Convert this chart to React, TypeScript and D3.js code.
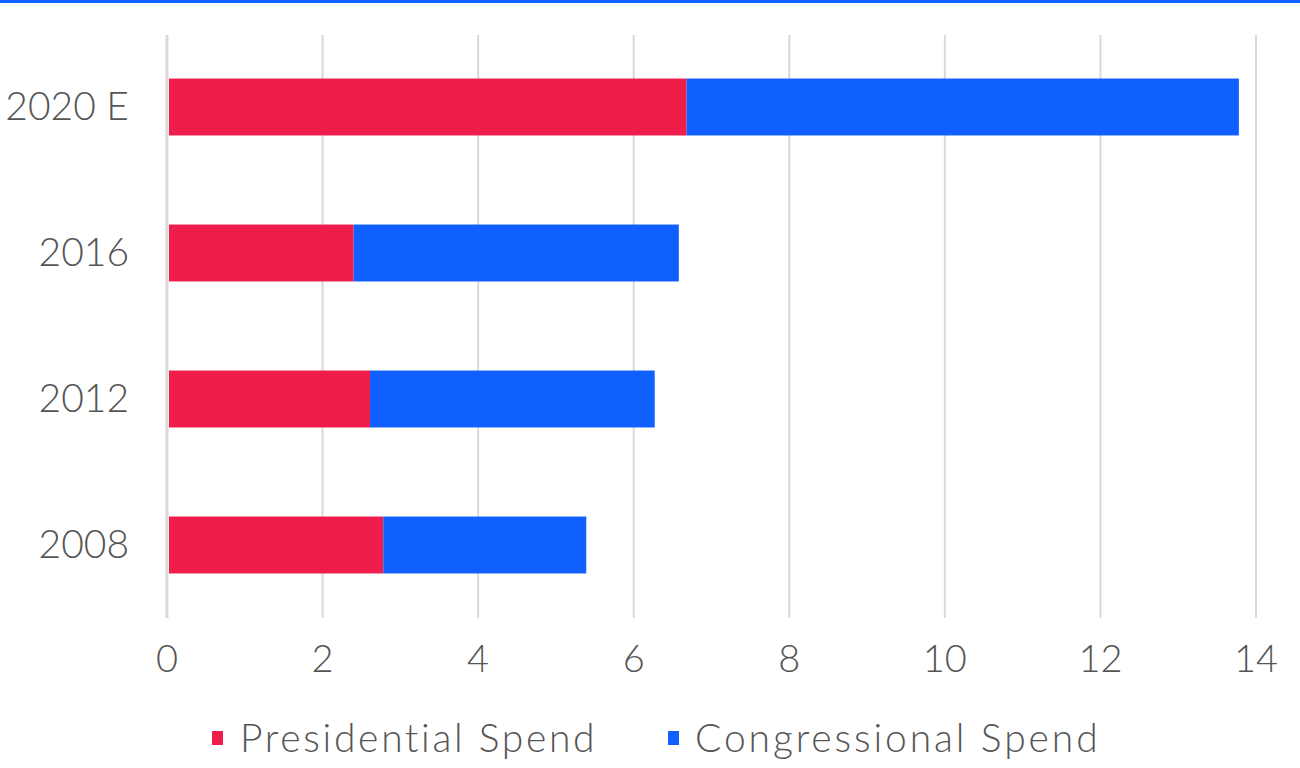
import React from "react";
import * as d3 from "d3";

const categories = ["2020 E", "2016", "2012", "2008"];
const presidential = [6.68, 2.4, 2.61, 2.78];
const congressional = [7.1, 4.18, 3.66, 2.61];
const xTicks = [0, 2, 4, 6, 8, 10, 12, 14];
const seriesNames = ["Presidential Spend", "Congressional Spend"];
const colors = ["#ee1d4a", "#1060ff"];

const W = 1300;
const H = 768;
const FONT = "Lato, 'Open Sans', sans-serif";
const TEXT = "#555";

export default function App() {
  const x = d3.scaleLinear().domain([0, 14]).range([167, 1256]);
  const y = d3.scaleBand().domain(categories).range([34, 618]).paddingInner(0.61).paddingOuter(0.305);
  const stacked = categories.map((c, i) => {
    const p = presidential[i];
    const q = congressional[i];
    return { c, segs: [[0, p], [p, p + q]] };
  });
  return (
    <svg width={W} height={H} style={{ position: "absolute", left: 0, top: 0, background: "#fff" }}>
      <rect x={0} y={0} width={W} height={3} fill="#1060ff" />
      {xTicks.map((t) => (
        <line key={t} x1={x(t)} x2={x(t)} y1={35} y2={618} stroke="#d9d9d9" strokeWidth={t === 0 ? 3 : 2} />
      ))}
      {stacked.map((s) =>
        s.segs.map((seg, j) => (
          <rect
            key={s.c + j}
            x={x(seg[0]) + (j === 0 ? 2 : 0)}
            y={y(s.c)!}
            width={x(seg[1]) - x(seg[0]) - (j === 0 ? 2 : 0)}
            height={y.bandwidth()}
            fill={colors[j]}
          />
        ))
      )}
      {categories.map((c) => (
        <text key={c} x={129} y={y(c)! + y.bandwidth() / 2 + 13} textAnchor="end" fontFamily={FONT} fontWeight={300} fontSize={39} fill={TEXT}>
          {c}
        </text>
      ))}
      {xTicks.map((t) => (
        <text key={t} x={x(t)} y={672} textAnchor="middle" fontFamily={FONT} fontWeight={300} fontSize={38} fill={TEXT}>
          {t}
        </text>
      ))}
      <rect x={212} y={731} width={11} height={14} fill={colors[0]} />
      <text x={240} y={752} fontFamily={FONT} fontWeight={300} fontSize={39} letterSpacing={2.7} fill={TEXT}>{seriesNames[0]}</text>
      <rect x={668} y={731} width={11} height={14} fill={colors[1]} />
      <text x={695} y={752} fontFamily={FONT} fontWeight={300} fontSize={39} letterSpacing={2.9} fill={TEXT}>{seriesNames[1]}</text>
    </svg>
  );
}
